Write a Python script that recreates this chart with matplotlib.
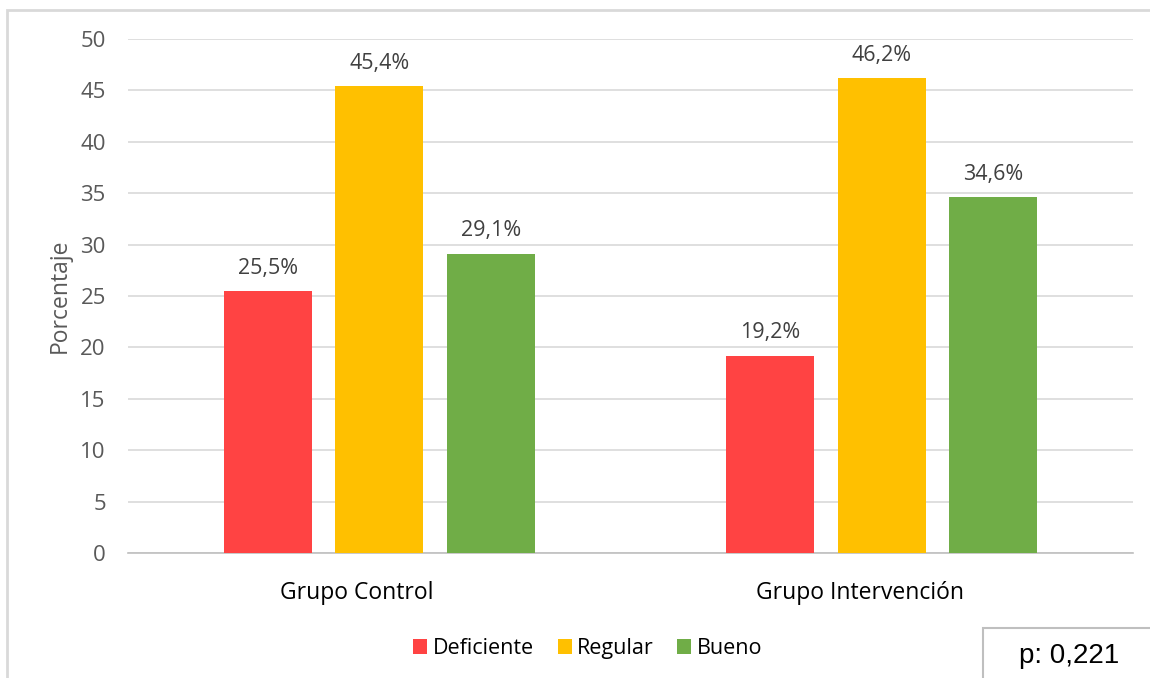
import matplotlib.pyplot as plt
import matplotlib.transforms as mtransforms
from matplotlib.patches import Rectangle
import numpy as np

plt.rcParams['font.family'] = ['Open Sans', 'DejaVu Sans']

grupos = ['Grupo Control', 'Grupo Intervención']
niveles = ['Deficiente', 'Regular', 'Bueno']
deficiente = [25.5, 19.2]
regular = [45.4, 46.2]
bueno = [29.1, 34.6]
colores = ['#ff4343', '#ffc000', '#70ad47']
yticks = [0, 5, 10, 15, 20, 25, 30, 35, 40, 45, 50]

fig = plt.figure(figsize=(11.5, 6.78), dpi=100)
ax = fig.add_axes([0.1113, 0.1844, 0.8737, 0.7581])

x = np.arange(len(grupos))
ancho = 0.175
paso = 0.222
for i, (serie, nombre) in enumerate(zip([deficiente, regular, bueno], niveles)):
    pos = x + (i - 1) * paso
    ax.bar(pos, serie, ancho, color=colores[i], label=nombre, zorder=3)
    for xp, v in zip(pos, serie):
        ax.text(xp, v + 1.2, f'{v:.1f}%'.replace('.', ','), ha='center', va='bottom',
                fontsize=15.5, color='#404040')

ax.set_xlim(-0.5, 1.5)
ax.set_ylim(0, 50)
ax.set_yticks(yticks)
ax.set_xticks(x)
ax.set_xticklabels(grupos)
ax.yaxis.grid(True, color='#d9d9d9', lw=1.2, zorder=0)
for s in ['top', 'right', 'left']:
    ax.spines[s].set_visible(False)
ax.spines['bottom'].set_color('#bfbfbf')
ax.spines['bottom'].set_linewidth(1.2)
ax.tick_params(axis='y', length=0, labelsize=16, labelcolor='#595959', pad=16)
ax.tick_params(axis='x', length=0, labelsize=16.5, labelcolor='#000000', pad=20)
ax.set_ylabel('Porcentaje', fontsize=16.5, color='#595959', labelpad=6)

# las etiquetas de categoria estan algo desplazadas a la izquierda
desplaza = mtransforms.ScaledTranslation(-22 / 100, 0, fig.dpi_scale_trans)
for lbl in ax.get_xticklabels():
    lbl.set_transform(lbl.get_transform() + desplaza)

leg = ax.legend(loc='center', bbox_to_anchor=((588 - 128) / 1005, -0.186), ncol=3,
                frameon=False, fontsize=15.5, handlelength=0.65, handleheight=0.65,
                handletextpad=0.25, columnspacing=1.1)

# marco exterior y caja del valor p
fig.patches.append(Rectangle((7 / 1150, -0.05), 1.2, 1 - 10 / 678 + 0.05,
                             transform=fig.transFigure, fill=False,
                             edgecolor='#d9d9d9', lw=2))
fig.patches.append(Rectangle((983 / 1150, -0.05), 0.3, 1 - 628 / 678 + 0.05,
                             transform=fig.transFigure, fill=True, facecolor='white',
                             edgecolor='#bfbfbf', lw=1.5))
fig.text(1069 / 1150, 1 - 656 / 678, 'p: 0,221', ha='center', va='center',
         fontsize=20, family='Liberation Sans', color='#000000')

fig.savefig('out.png', dpi=100)
